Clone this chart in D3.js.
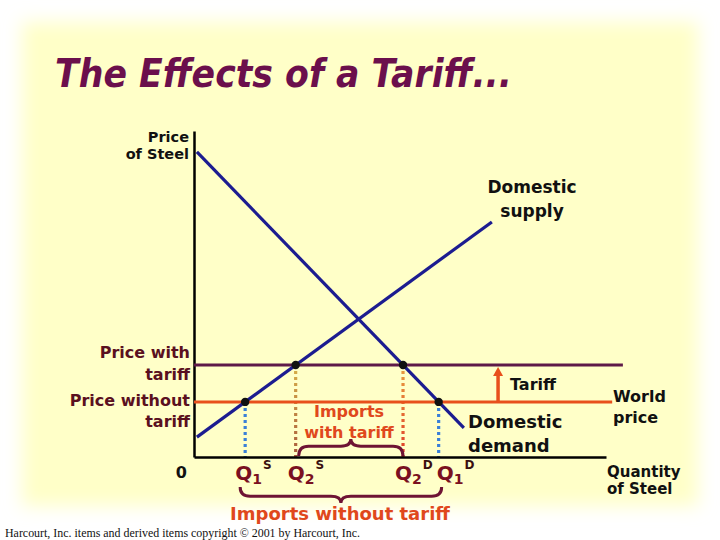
<!DOCTYPE html>
<html><head><meta charset="utf-8">
<script src="https://cdn.jsdelivr.net/npm/d3@7"></script>
<style>body{margin:0;background:#fff}svg{display:block}text{font-family:"DejaVu Sans",Verdana,sans-serif;font-weight:bold}</style>
</head><body>
<script>
// ---- data (abstract units) ----
const qDomain = [0, 100];
const pDomain = [0, 100];
const supply = [{q: 0.7, p: 6.1}, {q: 72.3, p: 72.1}];
const demand = [{q: 0.7, p: 93.6}, {q: 65.5, p: 8.9}];
const worldPrice = 16.9;
const tariffPrice = 28.2;
const priceLineEnd = [104.1, 101.5];   // [tariff line end, world line end]
const tariffArrowQ = 73.8;
const qLabels = ["1S", "2S", "2D", "1D"];

const W = 720, H = 540;
const svg = d3.select("body").append("svg").attr("width", W).attr("height", H);
const defs = svg.append("defs");
defs.append("filter").attr("id", "blur").attr("x", "-10%").attr("y", "-10%").attr("width", "120%").attr("height", "120%")
  .append("feGaussianBlur").attr("stdDeviation", 9);
svg.append("rect").attr("width", W).attr("height", H).attr("fill", "#ffffff");
svg.append("rect").attr("x", 22).attr("y", 22).attr("width", 676).attr("height", 484)
  .attr("fill", "#ffffc8").attr("filter", "url(#blur)");

const x = d3.scaleLinear().domain(qDomain).range([194, 606]);
const y = d3.scaleLinear().domain(pDomain).range([457, 131]);

function qAt(line, p) {
  const [a, b] = line;
  return a.q + (p - a.p) * (b.q - a.q) / (b.p - a.p);
}
const pts = {
  "1S": {q: qAt(supply, worldPrice), p: worldPrice},
  "2S": {q: qAt(supply, tariffPrice), p: tariffPrice},
  "2D": {q: qAt(demand, tariffPrice), p: tariffPrice},
  "1D": {q: qAt(demand, worldPrice), p: worldPrice}
};

// Title
svg.append("text").attr("x", 55).attr("y", 87).attr("font-size", 39).attr("font-style", "italic")
  .attr("fill", "#6b0f4c").attr("textLength", 457).attr("lengthAdjust", "spacingAndGlyphs")
  .text("The Effects of a Tariff...");

// gradients for dotted lines
const g1 = defs.append("linearGradient").attr("id", "g2s").attr("x1", 0).attr("y1", 0).attr("x2", 0).attr("y2", 1);
g1.append("stop").attr("offset", "0%").attr("stop-color", "#d8b048");
g1.append("stop").attr("offset", "100%").attr("stop-color", "#a85a3c");
const g2 = defs.append("linearGradient").attr("id", "g2d").attr("x1", 0).attr("y1", 0).attr("x2", 0).attr("y2", 1);
g2.append("stop").attr("offset", "0%").attr("stop-color", "#e8a040");
g2.append("stop").attr("offset", "100%").attr("stop-color", "#e03a28");

const dotColor = {"1S": "#3a80d8", "2S": "url(#g2s)", "2D": "url(#g2d)", "1D": "#3a80d8"};
qLabels.forEach(k => {
  svg.append("line").attr("x1", x(pts[k].q)).attr("x2", x(pts[k].q) + 0.01)
    .attr("y1", y(pts[k].p)).attr("y2", y(0))
    .attr("stroke", dotColor[k]).attr("stroke-width", 3.2).attr("stroke-dasharray", "3,3");
});

// Axes
const axisY = d3.axisLeft(y).tickValues([]).tickSizeOuter(0);
const axisX = d3.axisBottom(x).tickValues([]).tickSizeOuter(0);
svg.append("g").attr("transform", `translate(${x(0)},0)`).call(axisY)
  .select(".domain").attr("stroke", "#000").attr("stroke-width", 2.5);
svg.append("g").attr("transform", `translate(0,${y(0)})`).call(axisX)
  .select(".domain").attr("stroke", "#000").attr("stroke-width", 2.5);

// price lines
svg.append("line").attr("x1", x(0)).attr("x2", x(priceLineEnd[0])).attr("y1", y(tariffPrice)).attr("y2", y(tariffPrice))
  .attr("stroke", "#5e1a48").attr("stroke-width", 3);
svg.append("line").attr("x1", x(0)).attr("x2", x(priceLineEnd[1])).attr("y1", y(worldPrice)).attr("y2", y(worldPrice))
  .attr("stroke", "#e8501c").attr("stroke-width", 3);

// supply & demand
const line = d3.line().x(d => x(d.q)).y(d => y(d.p));
svg.append("path").attr("d", line(supply)).attr("stroke", "#1c1c90").attr("stroke-width", 3.2).attr("fill", "none");
svg.append("path").attr("d", line(demand)).attr("stroke", "#1c1c90").attr("stroke-width", 3.2).attr("fill", "none");

// dots
svg.selectAll("circle.pt").data(qLabels).enter().append("circle")
  .attr("cx", k => x(pts[k].q)).attr("cy", k => y(pts[k].p)).attr("r", 4.2).attr("fill", "#111");

// tariff arrow
const ax = x(tariffArrowQ);
svg.append("line").attr("x1", ax).attr("x2", ax).attr("y1", y(worldPrice)).attr("y2", y(tariffPrice) + 8)
  .attr("stroke", "#e8501c").attr("stroke-width", 3.5);
svg.append("path").attr("d", `M${ax},${y(tariffPrice) + 2} L${ax - 5},${y(tariffPrice) + 11} L${ax + 5},${y(tariffPrice) + 11} Z`)
  .attr("fill", "#e8501c");

// braces
function brace(x1, x2, yb, depth, dir) {
  const mid = (x1 + x2) / 2, h = depth * 0.58, r = 10;
  const yb2 = yb + dir * h, yt = yb + dir * depth;
  return `M${x1},${yb} Q${x1},${yb2} ${x1 + r},${yb2} L${mid - r},${yb2} Q${mid},${yb2} ${mid},${yt} ` +
         `Q${mid},${yb2} ${mid + r},${yb2} L${x2 - r},${yb2} Q${x2},${yb2} ${x2},${yb}`;
}
svg.append("path").attr("d", brace(x(pts["2S"].q) + 3, x(pts["2D"].q), y(0) - 1, 17, -1))
  .attr("stroke", "#6e1434").attr("stroke-width", 3).attr("fill", "none");
svg.append("path").attr("d", brace(x(pts["1S"].q) - 5, x(pts["1D"].q) + 3, 487, 16, 1))
  .attr("stroke", "#6e1434").attr("stroke-width", 3).attr("fill", "none");

// text labels
function multi(xp, yp, lines, size, fill, anchor, lh) {
  const t = svg.append("text").attr("x", xp).attr("y", yp).attr("font-size", size).attr("fill", fill).attr("text-anchor", anchor);
  lines.forEach((s, i) => t.append("tspan").attr("x", xp).attr("dy", i ? lh : 0).text(s));
}
multi(189, 142, ["Price", "of Steel"], 14.5, "#111", "end", 17);
multi(532, 193, ["Domestic", "supply"], 17, "#111", "middle", 24);
multi(190, 358, ["Price with", "tariff"], 16, "#5a1020", "end", 22);
multi(190, 406, ["Price without", "tariff"], 16, "#5a1020", "end", 21);
svg.append("text").attr("x", 187).attr("y", 478).attr("font-size", 16).attr("fill", "#111").attr("text-anchor", "end").text("0");
multi(349, 417, ["Imports", "with tariff"], 16, "#e0481c", "middle", 21);
multi(468, 428, ["Domestic", "demand"], 18, "#111", "start", 24);
svg.append("text").attr("x", 510).attr("y", 390).attr("font-size", 16).attr("fill", "#111").text("Tariff");
multi(613, 402, ["World", "price"], 16, "#111", "start", 21);
multi(607, 477, ["Quantity", "of Steel"], 15, "#111", "start", 17);
svg.append("text").attr("x", 340).attr("y", 520).attr("font-size", 18).attr("fill", "#e0481c").attr("text-anchor", "middle")
  .text("Imports without tariff");

// Q labels
const qOffset = {"1S": -10, "2S": -8, "2D": -8, "1D": -2};
qLabels.forEach(k => {
  const t = svg.append("text").attr("x", x(pts[k].q) + qOffset[k]).attr("y", 480).attr("fill", "#7a1020");
  t.append("tspan").attr("font-size", 20).text("Q");
  t.append("tspan").attr("font-size", 14).attr("dy", 4).text(k[0]);
  t.append("tspan").attr("font-size", 12).attr("dy", -15).attr("dx", 1).attr("fill", "#3a1010").text(k[1]);
});

// footer
svg.append("text").attr("x", 5).attr("y", 537).attr("font-size", 12.5)
  .style("font-family", '"Liberation Serif","Times New Roman",serif').style("font-weight", "normal")
  .attr("fill", "#111").attr("textLength", 355).attr("lengthAdjust", "spacingAndGlyphs")
  .text("Harcourt, Inc. items and derived items copyright © 2001 by Harcourt, Inc.");
</script>
</body></html>
